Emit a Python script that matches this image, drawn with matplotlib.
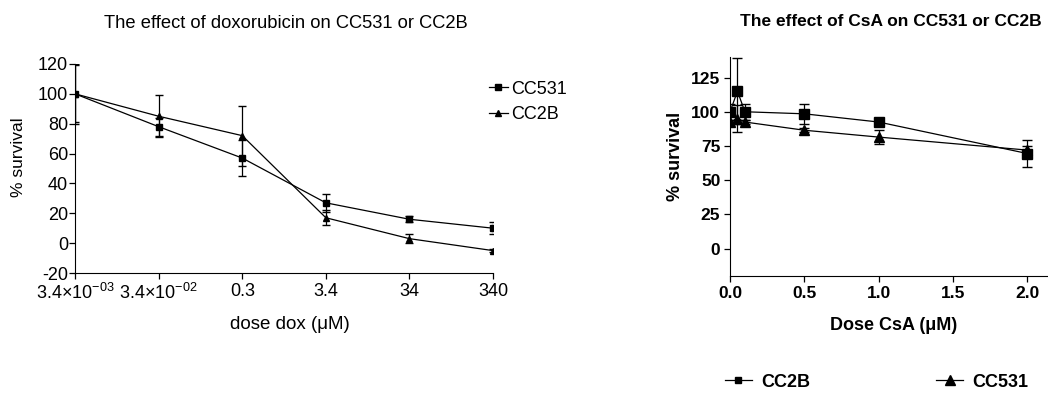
import numpy as np
import matplotlib
matplotlib.use('Agg')
import matplotlib.pyplot as plt
from matplotlib.lines import Line2D

plt.rcParams['font.family'] = ['Liberation Sans', 'DejaVu Sans']
plt.rcParams['mathtext.fontset'] = 'custom'
plt.rcParams['mathtext.rm'] = 'Liberation Sans'
plt.rcParams['mathtext.it'] = 'Liberation Sans'
plt.rcParams['axes.unicode_minus'] = False

# left panel: doxorubicin
dox_labels = [r'3.4×10$^{-03}$', r'3.4×10$^{-02}$', '0.3', '3.4', '34', '340']
cc531_dox = [100, 78, 57, 27, 16, 10]
cc531_dox_err = [20, 6, 12, 6, 2, 4]
cc2b_dox = [100, 85, 72, 17, 3, -5]
cc2b_dox_err = [19, 14, 20, 5, 3, 1]

# right panel: CsA
csa_dose = [0, 0.05, 0.1, 0.5, 1.0, 2.0]
cc2b_csa = [100, 115, 100, 98.5, 92.5, 69.5]
cc2b_csa_err = [6, 24, 6, 7.5, 1.5, 10]
cc531_csa = [92.5, 95, 92.5, 86.5, 81.5, 72]
cc531_csa_err = [1.5, 10, 1.5, 1.5, 5, 3]

fig = plt.figure(figsize=(10.48, 3.94), dpi=100)

# ---- left
ax1 = fig.add_axes([0.0716, 0.3071, 0.3989, 0.5305])
x = np.arange(len(dox_labels))
ax1.errorbar(x, cc531_dox, yerr=cc531_dox_err, color='black', lw=0.9,
             marker='s', ms=5, capsize=3, elinewidth=0.9)
ax1.errorbar(x, cc2b_dox, yerr=cc2b_dox_err, color='black', lw=0.9,
             marker='^', ms=5, capsize=3, elinewidth=0.9)
ax1.set_xlim(0, 5)
ax1.set_ylim(-20, 120)
ax1.set_yticks(range(-20, 121, 20))
ax1.set_xticks(x)
ax1.set_xticklabels(dox_labels)
for s in ['top', 'right']:
    ax1.spines[s].set_visible(False)
ax1.tick_params(labelsize=13, length=4, width=0.9, pad=1)
ax1.tick_params(axis='x', pad=3)
ax1.set_xlabel('dose dox (μM)', fontsize=13.5, va='center')
ax1.xaxis.set_label_coords(0.514, -0.244)
ax1.set_ylabel('% survival', fontsize=12.5, va='center')
ax1.yaxis.set_label_coords(-0.136, 0.555)
ax1.set_title('The effect of doxorubicin on CC531 or CC2B', fontsize=13.2,
              x=0.505, pad=26)
h1 = [Line2D([], [], color='black', lw=0.9, marker='s', ms=4),
      Line2D([], [], color='black', lw=0.9, marker='^', ms=4)]
ax1.legend(h1, ['CC531', 'CC2B'], loc='upper left',
           bbox_to_anchor=(0.458, 0.818), bbox_transform=fig.transFigure,
           frameon=False, fontsize=13, handlelength=1.05, handletextpad=0.2,
           labelspacing=0.45, borderpad=0)

# ---- right
ax2 = fig.add_axes([0.6966, 0.2995, 0.3034, 0.5558])
ax2.errorbar(csa_dose, cc2b_csa, yerr=cc2b_csa_err, color='black', lw=0.9,
             marker='s', ms=7, capsize=3.5, elinewidth=0.9)
ax2.errorbar(csa_dose, cc531_csa, yerr=cc531_csa_err, color='black', lw=0.9,
             marker='^', ms=7, capsize=3.5, elinewidth=0.9)
ax2.set_xlim(0, 2.14)
ax2.set_ylim(-20, 140)
ax2.set_yticks([0, 25, 50, 75, 100, 125])
ax2.set_xticks([0, 0.5, 1.0, 1.5, 2.0])
ax2.set_xticklabels(['0.0', '0.5', '1.0', '1.5', '2.0'])
for s in ['top', 'right']:
    ax2.spines[s].set_visible(False)
ax2.tick_params(labelsize=12.5, length=4, width=0.9, pad=3)
for lab in ax2.get_xticklabels() + ax2.get_yticklabels():
    lab.set_fontweight('bold')
ax2.set_xlabel('Dose CsA (μM)', fontsize=13, fontweight='bold', va='center')
ax2.xaxis.set_label_coords(0.513, -0.228)
ax2.set_ylabel('% survival', fontsize=13, fontweight='bold', va='center')
ax2.yaxis.set_label_coords(-0.173, 0.548)
ax2.set_title('The effect of CsA on CC531 or CC2B', fontsize=12.5,
              fontweight='bold', x=0.505, pad=22)
h2 = [Line2D([], [], color='black', lw=0.9, marker='s', ms=5),
      Line2D([], [], color='black', lw=0.9, marker='^', ms=7)]
ax2.legend(h2, ['CC2B', 'CC531'], loc='center left',
           bbox_to_anchor=(0.683, 0.03), bbox_transform=fig.transFigure,
           frameon=False, ncol=2, prop={'size': 13, 'weight': 'bold'},
           handlelength=1.5, handletextpad=0.5, columnspacing=7.0,
           borderpad=0)

fig.savefig('out.png', dpi=100)
